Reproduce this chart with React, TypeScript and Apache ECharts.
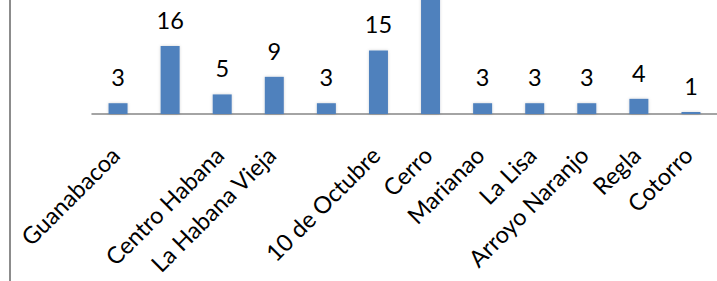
import React, { useEffect, useRef } from "react";
import * as echarts from "echarts";

const categories = [
  "Guanabacoa",
  "",
  "Centro Habana",
  "La Habana Vieja",
  "",
  "10 de Octubre",
  "Cerro",
  "Marianao",
  "La Lisa",
  "Arroyo Naranjo",
  "Regla",
  "Cotorro",
];
const values = [3, 16, 5, 9, 3, 15, 30, 3, 3, 3, 4, 1];

const OFFSET = 60;

export default function App() {
  const ref = useRef<HTMLDivElement>(null);
  useEffect(() => {
    if (!ref.current) return;
    const chart = echarts.init(ref.current, null, { renderer: "svg" });
    const font = "Lato, Calibri, sans-serif";
    chart.setOption({
      animation: false,
      backgroundColor: "#ffffff",
      grid: { left: 92, top: 0, width: 627.6, bottom: 167, containLabel: false },
      xAxis: {
        type: "category",
        data: categories,
        axisLine: { show: true, lineStyle: { color: "#868686", width: 1.5 } },
        axisTick: { show: false },
        axisLabel: {
          interval: 0,
          rotate: 45,
          margin: 34,
          padding: [0, 4, 0, 0],
          fontSize: 23.5,
          fontFamily: font,
          color: "#000000",
        },
      },
      yAxis: {
        type: "value",
        min: 0.55,
        max: 0.55 + (114 + OFFSET) / 4.4,
        show: false,
        splitLine: { show: false },
      },
      graphic: [
        {
          type: "line",
          shape: { x1: 10, y1: 0, x2: 10, y2: 281 + OFFSET },
          style: { stroke: "#8c8c8c", lineWidth: 2 },
        },
      ],
      series: [
        {
          type: "bar",
          data: values,
          barWidth: 19,
          itemStyle: {
            color: "#4f81bd",
            shadowColor: "rgba(0,0,0,0.18)",
            shadowBlur: 3,
          },
          label: {
            show: true,
            position: "top",
            distance: 14,
            fontSize: 23.5,
            fontFamily: font,
            color: "#000000",
          },
        },
      ],
    });
    return () => chart.dispose();
  }, []);
  return (
    <div
      style={{
        position: "fixed",
        left: 0,
        top: 0,
        width: 717,
        height: 281,
        overflow: "hidden",
      }}
    >
      <div
        ref={ref}
        style={{
          position: "absolute",
          left: 0,
          top: -OFFSET,
          width: 717,
          height: 281 + OFFSET,
        }}
      />
    </div>
  );
}
